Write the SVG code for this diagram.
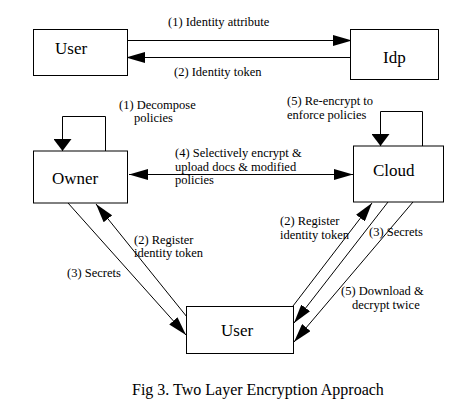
<svg xmlns="http://www.w3.org/2000/svg" width="474" height="409" viewBox="0 0 474 409">
<style>
.box{fill:#fff;stroke:#000;stroke-width:1}
.ln{fill:none;stroke:#000;stroke-width:1}
.nl{font-family:"Liberation Serif","Times New Roman",serif;font-size:17px;fill:#000}
.lb{font-family:"Liberation Serif","Times New Roman",serif;font-size:12.5px;fill:#000}
.cap{font-family:"Liberation Serif","Times New Roman",serif;font-size:16px;fill:#000}
</style>
<defs>
<marker id="ah" markerUnits="userSpaceOnUse" markerWidth="19" markerHeight="11" refX="19" refY="5.5" orient="auto-start-reverse" viewBox="0 0 19 11">
<path d="M0,0 L19,5.5 L0,11 z" fill="#000"/>
</marker>
<marker id="ahs" markerUnits="userSpaceOnUse" markerWidth="12" markerHeight="18" refX="12" refY="9" orient="auto" viewBox="0 0 12 18">
<path d="M0,0 L12,9 L0,18 z" fill="#000"/>
</marker>
</defs>
<rect width="474" height="409" fill="#fff"/>
<g id="connectors">
<line class="ln" x1="128" y1="40.5" x2="352" y2="40.5" marker-end="url(#ah)"/>
<line class="ln" x1="350" y1="57.5" x2="126" y2="57.5" marker-end="url(#ah)"/>
<line class="ln" x1="129" y1="174.5" x2="353" y2="174.5" marker-start="url(#ah)" marker-end="url(#ah)"/>
<path class="ln" d="M105.5,151 V116.5 H62.5 V151" marker-end="url(#ahs)"/>
<path class="ln" d="M422.5,146 V111.5 H380.5 V146" marker-end="url(#ahs)"/>
<line class="ln" x1="68" y1="203" x2="186" y2="335" marker-end="url(#ah)"/>
<line class="ln" x1="187" y1="317" x2="96" y2="204" marker-end="url(#ah)"/>
<line class="ln" x1="293" y1="306" x2="372" y2="203" marker-end="url(#ah)"/>
<line class="ln" x1="388" y1="202" x2="294" y2="323" marker-end="url(#ah)"/>
<line class="ln" x1="413" y1="202" x2="294" y2="342" marker-end="url(#ah)"/>
</g>
<g id="user-top">
<rect class="box" x="33.5" y="29.5" width="94" height="46"/>
<text class="nl" x="55" y="54">User</text>
</g>
<g id="idp">
<rect class="box" x="350.5" y="29.5" width="88" height="50"/>
<text class="nl" x="383" y="63">Idp</text>
</g>
<g id="owner">
<rect class="box" x="33.5" y="151" width="94" height="52"/>
<text class="nl" x="52" y="184">Owner</text>
</g>
<g id="cloud">
<rect class="box" x="353.5" y="146" width="90" height="56"/>
<text class="nl" x="373" y="176">Cloud</text>
</g>
<g id="user-bottom">
<rect class="box" x="186.5" y="306.5" width="107" height="47"/>
<text class="nl" x="221" y="336">User</text>
</g>
<g id="labels">
<text class="lb" x="168" y="26">(1) Identity attribute</text>
<text class="lb" x="174" y="76">(2) Identity token</text>
<text class="lb" x="119" y="109">(1) Decompose</text>
<text class="lb" x="134" y="122">policies</text>
<text class="lb" x="287" y="105">(5) Re-encrypt to</text>
<text class="lb" x="287" y="119">enforce policies</text>
<text class="lb" x="175" y="157">(4) Selectively encrypt &amp;</text>
<text class="lb" x="175" y="171">upload docs &amp; modified</text>
<text class="lb" x="175" y="184">policies</text>
<text class="lb" x="134" y="244">(2) Register</text>
<text class="lb" x="134" y="257">identity token</text>
<text class="lb" x="67" y="277">(3) Secrets</text>
<text class="lb" x="280" y="225">(2) Register</text>
<text class="lb" x="280" y="239">identity token</text>
<text class="lb" x="369" y="236">(3) Secrets</text>
<text class="lb" x="341" y="295">(5) Download &amp;</text>
<text class="lb" x="352" y="309">decrypt twice</text>
</g>
<text class="cap" x="132" y="395">Fig 3. Two Layer Encryption Approach</text>
</svg>
